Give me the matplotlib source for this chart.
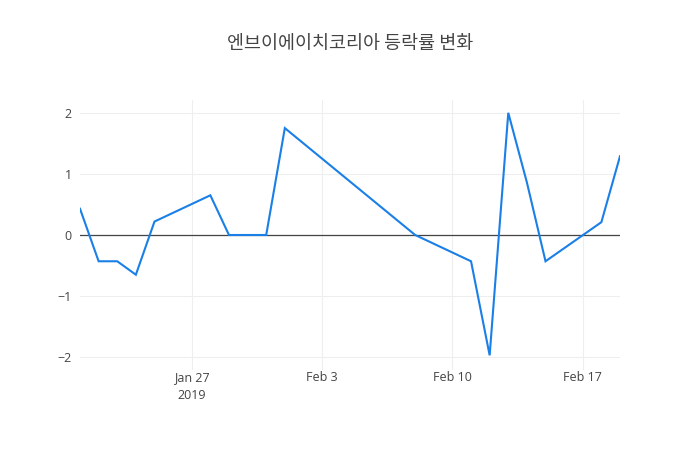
import matplotlib
matplotlib.use('Agg')
import matplotlib.pyplot as plt
import numpy as np
import datetime as dt

plt.rcParams['font.family'] = ['Open Sans', 'Noto Sans CJK KR', 'DejaVu Sans']

# daily change rate (%)
dates = ['2019-01-21', '2019-01-22', '2019-01-23', '2019-01-24', '2019-01-25',
         '2019-01-28', '2019-01-29', '2019-01-31', '2019-02-01', '2019-02-08',
         '2019-02-11', '2019-02-12', '2019-02-13', '2019-02-14', '2019-02-15',
         '2019-02-18', '2019-02-19']
rates = [0.43, -0.43, -0.43, -0.65, 0.22,
         0.65, 0.0, 0.0, 1.75, 0.0,
         -0.43, -1.97, 2.0, 0.86, -0.43,
         0.21, 1.29]
tick_dates = ['2019-01-27', '2019-02-03', '2019-02-10', '2019-02-17']
tick_labels = ['Jan 27\n2019', 'Feb 3', 'Feb 10', 'Feb 17']
y_ticks = [-2, -1, 0, 1, 2]
title = '엔브이에이치코리아 등락률 변화'

x = [dt.datetime.strptime(d, '%Y-%m-%d') for d in dates]
xt = [dt.datetime.strptime(d, '%Y-%m-%d') for d in tick_dates]

fig = plt.figure(figsize=(7, 4.5), dpi=100)
ax = fig.add_axes([80/700, 80/450, 540/700, 270/450])

ax.plot(x, rates, color='#1a7fe6', lw=1.5, zorder=3, solid_joinstyle='miter')
ax.axhline(0, color='#444444', lw=0.9, zorder=2)

ax.set_xlim(x[0], x[-1])
ax.set_ylim(-2.21, 2.21)
ax.set_xticks(xt)
ax.set_xticklabels(tick_labels, linespacing=1.45)
ax.set_yticks(y_ticks)
ax.set_yticklabels(['\u2212' + str(abs(v)) if v < 0 else str(v) for v in y_ticks])

ax.grid(True, color='#eeeeee', lw=0.8, zorder=0)
for s in ax.spines.values():
    s.set_visible(False)
ax.tick_params(length=0, labelsize=9, labelcolor='#444444')
ax.tick_params(axis='x', pad=1)
ax.tick_params(axis='y', pad=6)

fig.text(350/700, 1 - 44/450, title, ha='center', va='center',
         fontsize=13.3, color='#444444', family=['Noto Sans CJK KR', 'DejaVu Sans'])

fig.savefig('out.png', dpi=100, facecolor='white')
